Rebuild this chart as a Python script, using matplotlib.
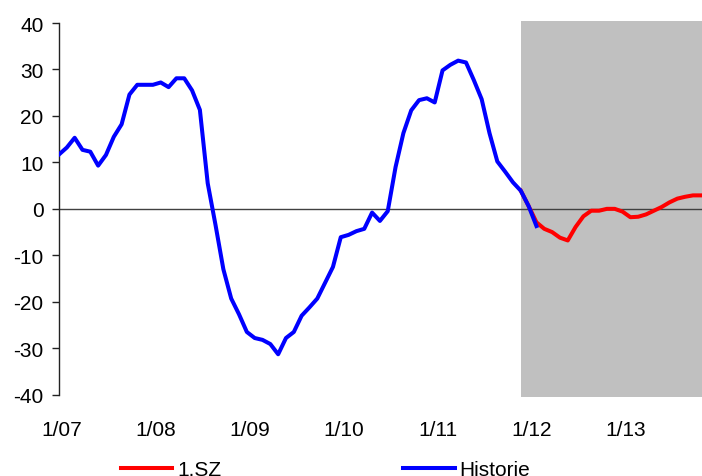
import numpy as np
import matplotlib
matplotlib.use('Agg')
import matplotlib.pyplot as plt

plt.rcParams['font.family'] = ['Liberation Sans', 'DejaVu Sans']
plt.rcParams['axes.unicode_minus'] = False

# monthly values, month 0 = 1/07
historie = [11.7, 13.2, 15.3, 12.7, 12.3, 9.3, 11.6, 15.5, 18.2, 24.6,
            26.7, 26.7, 26.7, 27.2, 26.2, 28.1, 28.1, 25.5, 21.3, 5.5,
            -3.5, -13.0, -19.3, -22.7, -26.5, -27.8, -28.2, -29.1, -31.3, -27.8,
            -26.5, -23.0, -21.2, -19.3, -15.9, -12.5, -6.1, -5.6, -4.8, -4.3,
            -0.8, -2.6, -0.5, 9.0, 16.3, 21.2, 23.4, 23.8, 22.9, 29.8,
            31.0, 31.9, 31.5, 27.7, 23.6, 16.3, 10.2, 8.0, 5.7, 3.9,
            0.6, -3.7]
sz_start = 59  # 12/11
sz1 = [3.9, 0.6, -2.9, -4.3, -5.0, -6.2, -6.8, -3.9, -1.6, -0.4,
       -0.4, 0.0, 0.0, -0.6, -1.8, -1.7, -1.2, -0.4, 0.4, 1.4,
       2.2, 2.6, 2.9, 2.9]
tick_labels = ['1/07', '1/08', '1/09', '1/10', '1/11', '1/12', '1/13']

x_hist = np.arange(len(historie))
x_sz = np.arange(sz_start, sz_start + len(sz1))
x_end = 82.15

fig = plt.figure(figsize=(7.02, 4.77), dpi=100)
ax = fig.add_axes([59 / 702, 1 - 395.7 / 477, 1 - 59 / 702, (395.7 - 24) / 477])

ax.axvspan(sz_start, x_end, ymin=-0.006, ymax=1.005, color='#C0C0C0', lw=0, clip_on=False, zorder=0)
ax.axhline(0, color='#404040', lw=1.0, zorder=1)
l_sz, = ax.plot(x_sz, sz1, color='#FF0000', lw=2.9, label='1.SZ', zorder=2, solid_joinstyle='round')
l_hist, = ax.plot(x_hist, historie, color='#0000FF', lw=2.9, label='Historie', zorder=3, solid_joinstyle='round')

ax.set_xlim(0, x_end)
ax.set_ylim(-40, 40)
ax.set_yticks(np.arange(-40, 41, 10))
ax.set_xticks(np.arange(len(tick_labels)) * 12 + 0.35)
ax.set_xticklabels(tick_labels)

for s in ['top', 'right', 'bottom']:
    ax.spines[s].set_visible(False)
ax.spines['left'].set_color('#222222')
ax.spines['left'].set_linewidth(1.0)
ax.tick_params(axis='y', length=5, width=1.0, color='#222222', pad=6, labelsize=15)
ax.tick_params(axis='x', length=0, pad=18, labelsize=15)

fig.legend(handles=[l_sz, l_hist], loc='center left', bbox_to_anchor=(121 / 702, 1 - 471 / 477),
           ncol=2, frameon=False, fontsize=15, handlelength=2.45, handletextpad=0.24,
           columnspacing=8.75, borderpad=0, borderaxespad=0)

fig.savefig('out.png', dpi=100)
